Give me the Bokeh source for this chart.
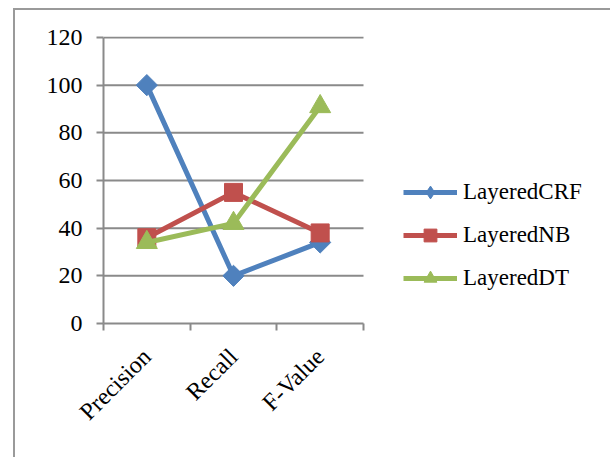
from math import pi

from bokeh.embed import file_html
from bokeh.resources import INLINE
from bokeh.plotting import figure
from bokeh.models import (Range1d, FixedTicker, Legend, LegendItem, InlineStyleSheet,
                          ColumnDataSource)

# --- data -------------------------------------------------------------
categories = ["Precision", "Recall", "F-Value"]
layered_crf = [100, 20, 34]
layered_nb = [36, 55, 38]
layered_dt = [34, 42, 91]
y_ticks = [0, 20, 40, 60, 80, 100, 120]

series_names = ["LayeredCRF", "LayeredNB", "LayeredDT"]
series_values = [layered_crf, layered_nb, layered_dt]
colors = ["#4F81BD", "#C0504D", "#9BBB59"]
# (plot marker, angle, size, legend marker)
markers = [("square", pi / 4, 15, "diamond"),
           ("square", 0, 18, "square"),
           ("triangle", 0, 21, "triangle")]

FONT = "Liberation Serif"
GRAY = "#8a8a8a"

n = len(categories)
xs = [i + 0.5 for i in range(n)]

# The frame runs to the right edge of the page so the legend can sit in it;
# the category band occupies the first 260 of its 507 pixels.  A little
# headroom above 120 keeps the top gridline from being clipped.
p = figure(width=610, height=457, output_backend="svg", toolbar_location=None,
           x_range=Range1d(0, n * 507 / 260), y_range=Range1d(0, 120.4),
           min_border_left=103, min_border_right=0,
           min_border_top=36, min_border_bottom=134)
p.outline_line_color = None
p.background_fill_color = "white"
p.border_fill_color = "white"

# chart-area frame: only its left and top edges fall inside the page
p.stylesheets = [InlineStyleSheet(css="""
:host::before {
  content: "";
  position: absolute;
  left: 13px; top: 8px;
  width: 597px; height: 449px;
  border-left: 2px solid #9a9a9a;
  border-top: 2px solid #9a9a9a;
  box-sizing: border-box;
  z-index: 10;
  pointer-events: none;
}
""")]

# axes
p.yaxis.bounds = (0, 120)
p.yaxis.ticker = FixedTicker(ticks=y_ticks)
p.yaxis.major_tick_out = 7
p.yaxis.major_tick_in = 0
p.yaxis.minor_tick_line_color = None
p.yaxis.major_label_standoff = 14

p.xaxis.bounds = (0, n)
p.xaxis.ticker = FixedTicker(ticks=xs, minor_ticks=list(range(n + 1)))
p.xaxis.major_label_overrides = {x: c for x, c in zip(xs, categories)}
p.xaxis.major_tick_line_color = None
p.xaxis.minor_tick_out = 7
p.xaxis.minor_tick_in = 0
p.xaxis.minor_tick_line_color = GRAY
p.xaxis.minor_tick_line_width = 2
p.xaxis.major_label_orientation = pi / 4
p.xaxis.major_label_standoff = 22

for ax in (p.xaxis, p.yaxis):
    ax.axis_line_color = GRAY
    ax.axis_line_width = 2
    ax.major_label_text_font = FONT
    ax.major_label_text_font_size = "24px"
    ax.major_label_text_color = "black"
p.yaxis.major_tick_line_color = GRAY
p.yaxis.major_tick_line_width = 2

# horizontal gridlines across the category band only
p.xgrid.grid_line_color = None
p.ygrid.grid_line_color = None
p.segment(x0=0, x1=n, y0=y_ticks[1:], y1=y_ticks[1:],
          line_color=GRAY, line_width=2)

# series
items = []
for name, vals, color, (mk, ang, sz, lmk) in zip(series_names, series_values,
                                                  colors, markers):
    src = ColumnDataSource(dict(x=xs, y=vals))
    ln = p.line("x", "y", source=src, line_color=color, line_width=5)
    # upright key marker used by the legend; the larger plot marker covers it
    key = p.scatter("x", "y", source=src, marker=lmk, size=12,
                    fill_color=color, line_color=color)
    p.scatter("x", "y", source=src, marker=mk, angle=ang, size=sz,
              fill_color=color, line_color=color)
    items.append(LegendItem(label=name, renderers=[ln, key]))

legend = Legend(items=items, location=(300, 29), orientation="vertical",
                glyph_width=54, glyph_height=32, label_height=32,
                spacing=11, padding=0, margin=0, label_standoff=6,
                border_line_color=None, background_fill_alpha=0,
                label_text_font=FONT, label_text_font_size="23px",
                label_text_color="black")
p.add_layout(legend)

open("out.html", "w").write(file_html(p, INLINE))
